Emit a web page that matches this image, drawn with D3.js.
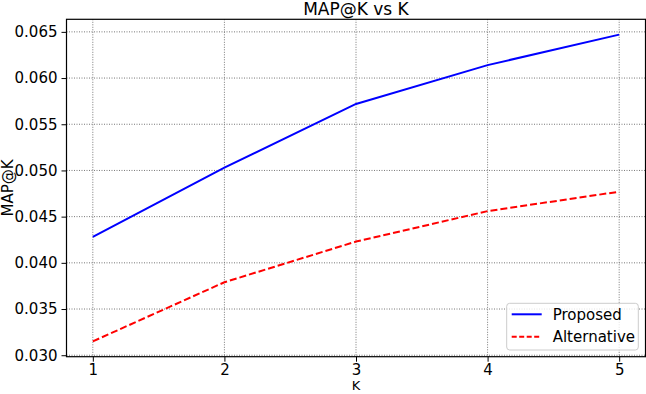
<!DOCTYPE html>
<html><head><meta charset="utf-8">
<script src="https://cdn.jsdelivr.net/npm/d3@7"></script>
<style>body{margin:0;background:#fff}svg{display:block}text{font-family:"DejaVu Sans",sans-serif}</style>
</head><body><svg id="c" width="646" height="394"></svg>
<script>
const kValues = [1, 2, 3, 4, 5];
const proposed = [0.0428, 0.0503, 0.0572, 0.0614, 0.0647];
const alternative = [0.0315, 0.0379, 0.0423, 0.0456, 0.0477];
const yTicks = [0.030, 0.035, 0.040, 0.045, 0.050, 0.055, 0.060, 0.065];
const seriesNames = ["Proposed", "Alternative"];

const svg = d3.select("#c");
const L = 66.5, R = 645.5, T = 19.3, B = 356.7;
const x = d3.scaleLinear().domain([0.8, 5.2]).range([L, R]);
const y = d3.scaleLinear().domain([0.02984, 0.06636]).range([B, T]);

// grid
const g = svg.append("g");
g.selectAll(".gx").data(kValues).join("line")
  .attr("x1", d => x(d)).attr("x2", d => x(d)).attr("y1", T).attr("y2", B)
  .attr("stroke", "#777").attr("stroke-width", 1).attr("stroke-dasharray", "1,1.5");
g.selectAll(".gy").data(yTicks).join("line")
  .attr("x1", L).attr("x2", R).attr("y1", d => y(d)).attr("y2", d => y(d))
  .attr("stroke", "#777").attr("stroke-width", 1).attr("stroke-dasharray", "1,1.5");

// lines
const line = d3.line().x((d, i) => x(kValues[i])).y(d => y(d));
svg.append("path").datum(proposed).attr("d", line).attr("fill", "none")
  .attr("stroke", "#0000ff").attr("stroke-width", 2);
svg.append("path").datum(alternative).attr("d", line).attr("fill", "none")
  .attr("stroke", "#ff0000").attr("stroke-width", 2).attr("stroke-dasharray", "7,3");

// frame
svg.append("rect").attr("x", L).attr("y", T).attr("width", R - L).attr("height", B - T)
  .attr("fill", "none").attr("stroke", "#000").attr("stroke-width", 1.2);

// axes
const xAxis = d3.axisBottom(x).tickValues(kValues).tickFormat(d3.format("d")).tickSize(5).tickPadding(2.5);
const yAxis = d3.axisLeft(y).tickValues(yTicks).tickFormat(d3.format(".3f")).tickSize(5).tickPadding(4);
const gx = svg.append("g").attr("transform", `translate(0,${B})`).call(xAxis);
const gy = svg.append("g").attr("transform", `translate(${L},0)`).call(yAxis);
[gx, gy].forEach(a => {
  a.select(".domain").remove();
  a.selectAll("text").attr("font-size", 15).attr("fill", "#000").attr("font-family", "DejaVu Sans");
  a.selectAll("line").attr("stroke", "#000");
});

// title & labels
svg.append("text").attr("x", (L + R) / 2).attr("y", 14.5).attr("text-anchor", "middle")
  .attr("font-size", 17).text("MAP@K vs K");
svg.append("text").attr("x", (L + R) / 2).attr("y", 390.3).attr("text-anchor", "middle")
  .attr("font-size", 13).text("K");
svg.append("text").attr("transform", `translate(13,188) rotate(-90)`).attr("text-anchor", "middle")
  .attr("font-size", 15).text("MAP@K");

// legend
const lg = svg.append("g");
lg.append("rect").attr("x", 506.7).attr("y", 303.3).attr("width", 131.6).attr("height", 46.7)
  .attr("rx", 3).attr("fill", "#fff").attr("fill-opacity", 0.8).attr("stroke", "#ccc");
const styles = [{c: "#0000ff", d: null}, {c: "#ff0000", d: "5,2.5"}];
seriesNames.forEach((n, i) => {
  const yy = 314.3 + i * 22.4;
  lg.append("line").attr("x1", 511.7).attr("x2", 541.7).attr("y1", yy).attr("y2", yy)
    .attr("stroke", styles[i].c).attr("stroke-width", 2).attr("stroke-dasharray", styles[i].d);
  lg.append("text").attr("x", 552.7).attr("y", yy + 5.5).attr("font-size", 15).text(n);
});
</script></body></html>
